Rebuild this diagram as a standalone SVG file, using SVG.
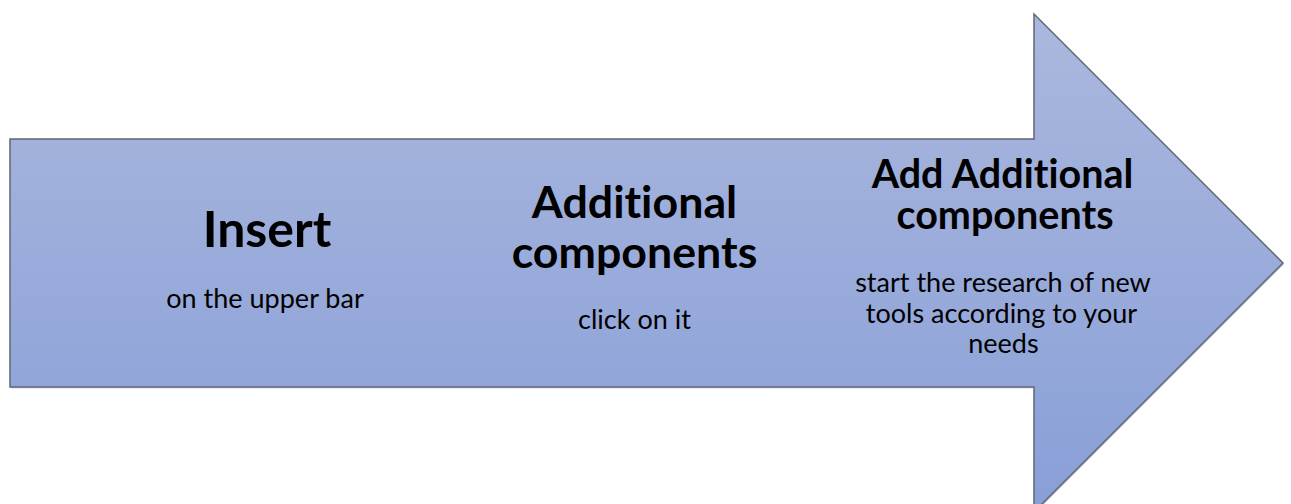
<svg xmlns="http://www.w3.org/2000/svg" width="1291" height="504" viewBox="0 0 1291 504">
  <defs>
    <linearGradient id="g" x1="0" y1="14" x2="0" y2="512" gradientUnits="userSpaceOnUse">
      <stop offset="0" stop-color="#abb8de"/>
      <stop offset="1" stop-color="#889fd7"/>
    </linearGradient>
    <style>
      text{font-variant-ligatures:none;font-feature-settings:"liga" 0,"clig" 0,"dlig" 0,"calt" 0;letter-spacing:0.01px}
      .h{font-family:Lato,"Liberation Sans",sans-serif;font-weight:bold;fill:#000;text-anchor:middle}
      .s{font-family:Lato,"Liberation Sans",sans-serif;font-size:27px;fill:#000;text-anchor:middle}
    </style>
  </defs>
  <rect width="1291" height="504" fill="#fff"/>
  <g id="arrow">
    <path d="M10,139 H1034 V14 L1283,263 L1034,512 V387 H10 Z" fill="#7d8595" opacity="0.35" transform="translate(1,1.5)"/>
    <path d="M10,139 H1034 V14 L1283,263 L1034,512 V387 H10 Z" fill="url(#g)" stroke="#5f6675" stroke-width="1.5" stroke-linejoin="miter"/>
  </g>
  <g id="step1">
    <text class="h" x="267" y="247" font-size="50">Insert</text>
    <text class="s" x="265" y="308">on the upper bar</text>
  </g>
  <g id="step2">
    <text class="h" x="634.5" y="218" font-size="44.7">Additional</text>
    <text class="h" x="634.5" y="268" font-size="44.7">components</text>
    <text class="s" x="634.5" y="329">click on it</text>
  </g>
  <g id="step3">
    <text class="h" x="1002.5" y="188" font-size="39.5">Add Additional</text>
    <text class="h" x="1005" y="229" font-size="39.5">components</text>
    <text class="s" x="1003" y="292">start the research of new</text>
    <text class="s" x="1001.5" y="323">tools according to your</text>
    <text class="s" x="1003.5" y="353">needs</text>
  </g>
  <g id="connectors"/>
</svg>
